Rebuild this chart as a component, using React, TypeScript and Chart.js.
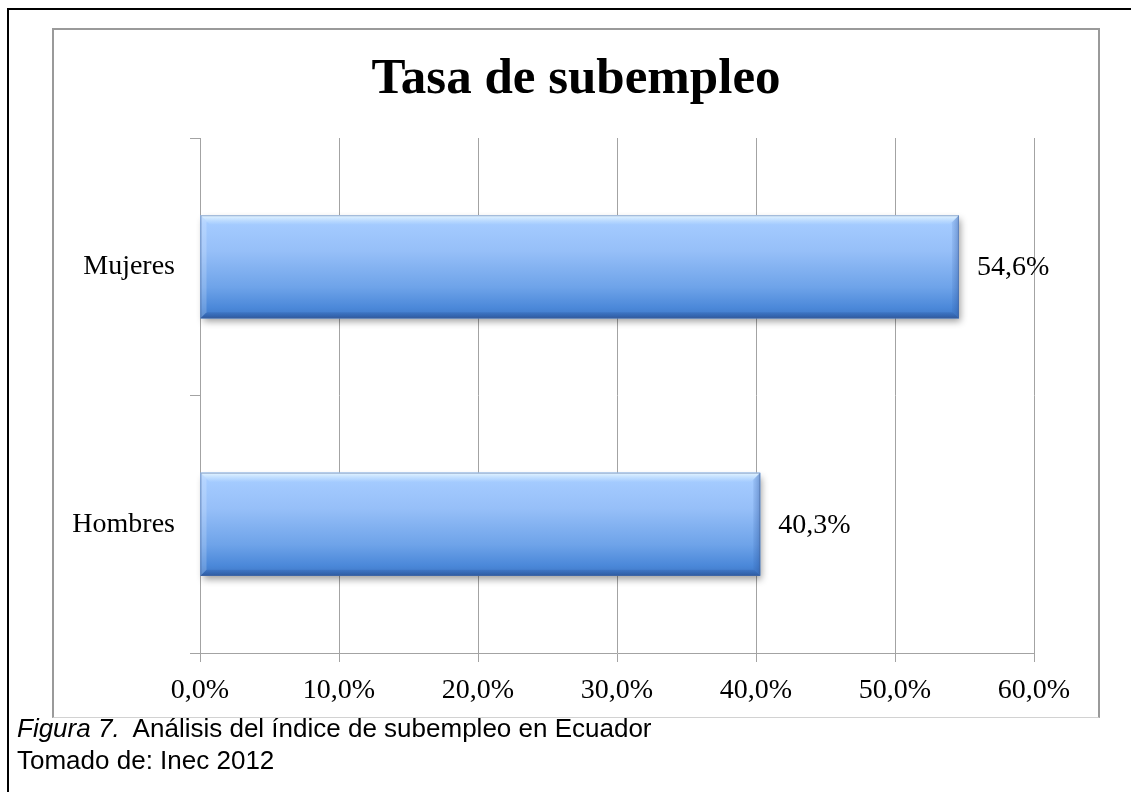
import React, { useEffect, useRef } from "react";
import { Chart, registerables } from "chart.js";

Chart.register(...registerables);

// ---- data ----
const categories: string[] = ["Mujeres", "Hombres"];
const values: number[] = [54.6, 40.3];
const xMin = 0;
const xMax = 60;
const xStep = 10;
const chartTitle = "Tasa de subempleo";
const captionLabel = "Figura 7.";
const captionText = "Análisis del índice de subempleo en Ecuador";
const sourceText = "Tomado de: Inec 2012";

const fmt = (v: number) => Number(v).toFixed(1).replace(".", ",") + "%";

const SERIF = "'Liberation Serif', 'Times New Roman', serif";
const GRID = "#a3a3a3";

const bevelPlugin = {
  id: "bevelBars",
  beforeDatasetsDraw(chart: any) {
    const ctx = chart.ctx;
    const meta = chart.getDatasetMeta(0);
    meta.data.forEach((el: any) => {
      const { x, y, base, height } = el.getProps(["x", "y", "base", "height"], true);
      const left = Math.min(base, x);
      const right = Math.max(base, x);
      const top = y - height / 2;
      const bottom = y + height / 2;
      ctx.save();
      ctx.shadowColor = "rgba(0,0,0,0.38)";
      ctx.shadowBlur = 7;
      ctx.shadowOffsetX = 2;
      ctx.shadowOffsetY = 4;
      ctx.fillStyle = "#4a86d6";
      ctx.fillRect(left, top, right - left, bottom - top);
      ctx.restore();
    });
  },
  afterDatasetsDraw(chart: any) {
    const ctx = chart.ctx;
    const meta = chart.getDatasetMeta(0);
    const data = chart.data.datasets[0].data as number[];
    meta.data.forEach((el: any, i: number) => {
      const { x, y, base, height } = el.getProps(["x", "y", "base", "height"], true);
      const left = Math.min(base, x);
      const right = Math.max(base, x);
      const top = y - height / 2;
      const bottom = y + height / 2;
      const w = right - left;
      const h = bottom - top;
      ctx.save();
      // body gradient
      const g = ctx.createLinearGradient(0, top, 0, bottom);
      g.addColorStop(0, "#b9d9ff");
      g.addColorStop(0.08, "#a4cbff");
      g.addColorStop(0.35, "#96bff8");
      g.addColorStop(0.7, "#6ea3e9");
      g.addColorStop(0.9, "#4b88d9");
      g.addColorStop(1, "#3f77c4");
      ctx.fillStyle = g;
      ctx.fillRect(left, top, w, h);
      // top bevel
      const bt = 9;
      const gt = ctx.createLinearGradient(0, top, 0, top + bt);
      gt.addColorStop(0, "rgba(232,247,255,0.95)");
      gt.addColorStop(1, "rgba(190,222,255,0.15)");
      ctx.fillStyle = gt;
      ctx.beginPath();
      ctx.moveTo(left, top);
      ctx.lineTo(right, top);
      ctx.lineTo(right - bt, top + bt);
      ctx.lineTo(left + bt, top + bt);
      ctx.closePath();
      ctx.fill();
      // bottom bevel
      const bb = 6;
      const gb = ctx.createLinearGradient(0, bottom - bb, 0, bottom);
      gb.addColorStop(0, "rgba(40,85,160,0.25)");
      gb.addColorStop(1, "rgba(30,65,130,0.55)");
      ctx.fillStyle = gb;
      ctx.beginPath();
      ctx.moveTo(left, bottom);
      ctx.lineTo(right, bottom);
      ctx.lineTo(right - bb, bottom - bb);
      ctx.lineTo(left + bb, bottom - bb);
      ctx.closePath();
      ctx.fill();
      // right bevel
      const br = 7;
      const gr = ctx.createLinearGradient(right - br, 0, right, 0);
      gr.addColorStop(0, "rgba(50,95,170,0.10)");
      gr.addColorStop(1, "rgba(40,80,150,0.40)");
      ctx.fillStyle = gr;
      ctx.beginPath();
      ctx.moveTo(right, top);
      ctx.lineTo(right, bottom);
      ctx.lineTo(right - br, bottom - br);
      ctx.lineTo(right - br, top + br);
      ctx.closePath();
      ctx.fill();
      // left bevel
      const bl = 6;
      ctx.fillStyle = "rgba(255,255,255,0.18)";
      ctx.beginPath();
      ctx.moveTo(left, top);
      ctx.lineTo(left + bl, top + bl);
      ctx.lineTo(left + bl, bottom - bl);
      ctx.lineTo(left, bottom);
      ctx.closePath();
      ctx.fill();
      // thin outline
      ctx.strokeStyle = "rgba(70,100,150,0.45)";
      ctx.lineWidth = 1;
      ctx.strokeRect(left + 0.5, top + 0.5, w - 1, h - 1);
      ctx.restore();

      // value label
      ctx.save();
      ctx.font = `28px ${SERIF}`;
      ctx.fillStyle = "#000";
      ctx.textAlign = "left";
      ctx.textBaseline = "middle";
      ctx.fillText(fmt(data[i]), right + 18, y + 1);
      ctx.restore();
    });
  },
};

function BarChart() {
  const ref = useRef<HTMLCanvasElement | null>(null);
  useEffect(() => {
    if (!ref.current) return;
    const chart = new Chart(ref.current, {
      type: "bar",
      data: {
        labels: categories,
        datasets: [
          {
            data: values,
            backgroundColor: "#6fa3e8",
            borderWidth: 0,
            categoryPercentage: 1,
            barPercentage: 0.4,
            xAxisID: "x",
            yAxisID: "y",
          },
        ],
      },
      options: {
        indexAxis: "y",
        responsive: false,
        animation: false,
        devicePixelRatio: 1,
        layout: { padding: { left: 0, right: 0, top: 0, bottom: 0 } },
        plugins: {
          legend: { display: false },
          tooltip: { enabled: false },
          title: {
            display: true,
            text: chartTitle,
            color: "#000",
            font: { family: SERIF, size: 51, weight: "bold", lineHeight: 1.2 },
            padding: { top: 19, bottom: 27.8 },
          },
        },
        scales: {
          x: {
            type: "linear",
            min: xMin,
            max: xMax,
            ticks: {
              stepSize: xStep,
              callback: (v: any) => fmt(Number(v)),
              color: "#000",
              font: { family: SERIF, size: 28 },
              padding: 12,
              maxRotation: 0,
              autoSkip: false,
            },
            grid: {
              color: GRID,
              lineWidth: 1,
              drawTicks: true,
              tickLength: 9,
              tickColor: GRID,
            },
            border: { display: true, color: GRID, width: 1 },
            afterFit: (s: any) => {
              s.height = 64;
            },
          },
          y: {
            type: "category",
            position: "left",
            ticks: {
              color: "#000",
              font: { family: SERIF, size: 28 },
              padding: 15,
            },
            grid: {
              drawOnChartArea: false,
              drawTicks: true,
              tickLength: 10,
              color: GRID,
              tickColor: GRID,
              offset: true,
            },
            border: { display: true, color: GRID, width: 1 },
            afterFit: (s: any) => {
              s.width = 146;
            },
          },
          // empty right-hand spacer axis so the plot ends where the reference does
          yRight: {
            type: "category",
            position: "right",
            labels: categories,
            ticks: { display: false },
            grid: { display: false, drawTicks: false },
            border: { display: false },
            afterFit: (s: any) => {
              s.width = 64;
            },
          },
        },
      } as any,
      plugins: [bevelPlugin],
    });
    return () => chart.destroy();
  }, []);
  return <canvas ref={ref} width={1044} height={687} style={{ display: "block", width: 1044, height: 687 }} />;
}

export default function App() {
  return (
    <div
      style={{
        position: "absolute",
        left: 0,
        top: 0,
        width: 1131,
        height: 792,
        overflow: "hidden",
        background: "#fff",
      }}
    >
      {/* outer document frame */}
      <div
        style={{
          position: "absolute",
          left: 7,
          top: 8,
          width: 1200,
          height: 900,
          borderTop: "2px solid #000",
          borderLeft: "2px solid #000",
        }}
      />
      {/* chart box */}
      <div
        style={{
          position: "absolute",
          left: 52,
          top: 28,
          width: 1048,
          height: 690,
          boxSizing: "border-box",
          borderTop: "2px solid #9a9a9a",
          borderLeft: "2px solid #9a9a9a",
          borderRight: "2px solid #9a9a9a",
          borderBottom: "1px solid #d2d2d2",
          background: "#fff",
        }}
      >
        <BarChart />
      </div>
      {/* caption */}
      <div
        style={{
          position: "absolute",
          left: 17,
          top: 712,
          fontFamily: "'Liberation Sans', Arial, sans-serif",
          fontSize: 26,
          lineHeight: "32px",
          color: "#000",
          whiteSpace: "pre",
        }}
      >
        <div>
          <span style={{ fontStyle: "italic" }}>{captionLabel}</span>
          {"  " + captionText}
        </div>
        <div>{sourceText}</div>
      </div>
    </div>
  );
}
